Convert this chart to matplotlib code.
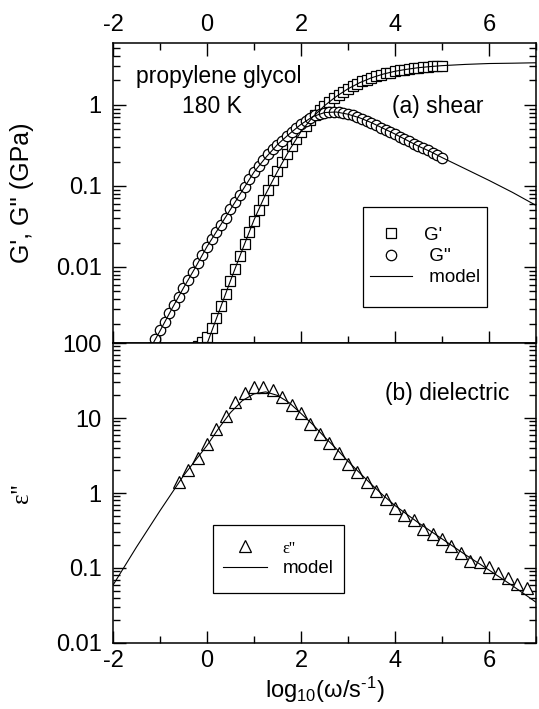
import numpy as np
import matplotlib.pyplot as plt
from matplotlib.patches import Rectangle
from matplotlib.ticker import LogLocator, MultipleLocator, FuncFormatter, NullFormatter

plt.rcParams['font.family'] = ['Liberation Sans', 'DejaVu Sans']
plt.rcParams['mathtext.fontset'] = 'custom'
plt.rcParams['mathtext.rm'] = 'Liberation Sans'
plt.rcParams['mathtext.it'] = 'Liberation Sans:italic'
plt.rcParams['axes.unicode_minus'] = False

# (a) shear: log10(omega) and moduli in GPa
x_g2 = [-1.2, -1.1, -1.0, -0.9, -0.8, -0.7, -0.6, -0.5, -0.4, -0.3, -0.2, -0.1,
        0.0, 0.1, 0.2, 0.3, 0.4, 0.5, 0.6, 0.7, 0.8, 0.9, 1.0, 1.1, 1.2, 1.3, 1.4,
        1.5, 1.6, 1.7, 1.8, 1.9, 2.0, 2.1, 2.2, 2.3, 2.4, 2.5, 2.6, 2.7, 2.8, 2.9,
        3.0, 3.1, 3.2, 3.3, 3.4, 3.5, 3.6, 3.7, 3.8, 3.9, 4.0, 4.1, 4.2, 4.3, 4.4,
        4.5, 4.6, 4.7, 4.8, 4.9, 5.0]
g2 = [0.00102, 0.00129, 0.00166, 0.00209, 0.00269, 0.00339, 0.00427, 0.00550,
      0.00692, 0.00871, 0.0112, 0.0141, 0.0178, 0.0219, 0.0269, 0.0331, 0.0407,
      0.0513, 0.0631, 0.0776, 0.0977, 0.120, 0.148, 0.178, 0.209, 0.245, 0.282,
      0.324, 0.363, 0.417, 0.468, 0.525, 0.575, 0.631, 0.692, 0.741, 0.776, 0.804,
      0.817, 0.820, 0.813, 0.794, 0.767, 0.741, 0.708, 0.676, 0.638, 0.603, 0.562,
      0.525, 0.495, 0.462, 0.437, 0.407, 0.380, 0.355, 0.331, 0.309, 0.292, 0.275,
      0.257, 0.240, 0.224]

x_g1 = [-0.3, -0.2, -0.1, 0.0, 0.1, 0.2, 0.3, 0.4, 0.5, 0.6, 0.7, 0.8, 0.9, 1.0,
        1.1, 1.2, 1.3, 1.4, 1.5, 1.6, 1.7, 1.8, 1.9, 2.0, 2.1, 2.2, 2.3, 2.4, 2.5,
        2.6, 2.7, 2.8, 2.9, 3.0, 3.1, 3.2, 3.3, 3.4, 3.5, 3.6, 3.7, 3.8, 3.9, 4.0,
        4.1, 4.2, 4.3, 4.4, 4.5, 4.6, 4.7, 4.8, 4.9, 5.0]
g1 = [0.000955, 0.00107, 0.00120, 0.00138, 0.00174, 0.00234, 0.00331, 0.00468,
      0.00676, 0.00955, 0.0135, 0.0191, 0.0269, 0.0372, 0.0501, 0.0676, 0.0891,
      0.117, 0.151, 0.195, 0.245, 0.309, 0.380, 0.468, 0.556, 0.653, 0.759, 0.871,
      0.977, 1.10, 1.22, 1.33, 1.46, 1.58, 1.70, 1.82, 1.95, 2.04, 2.16, 2.26,
      2.34, 2.45, 2.51, 2.60, 2.66, 2.72, 2.79, 2.85, 2.88, 2.92, 2.95, 2.99,
      3.02, 3.05]

# model curves
xm_g1 = [-0.5, -0.25, 0.0, 0.25, 0.5, 0.75, 1.0, 1.25, 1.5, 1.75, 2.0, 2.25, 2.5,
         2.75, 3.0, 3.25, 3.5, 3.75, 4.0, 4.25, 4.5, 4.75, 5.0, 5.5, 6.0, 6.5, 7.0]
m_g1 = [0.000200, 0.000479, 0.00112, 0.00275, 0.00676, 0.0162, 0.0380, 0.0794,
        0.151, 0.275, 0.468, 0.708, 0.977, 1.27, 1.58, 1.88, 2.16, 2.40, 2.60,
        2.75, 2.88, 2.97, 3.05, 3.16, 3.24, 3.27, 3.31]
xm_g2 = [-2.0, -1.5, -1.25, -1.0, -0.75, -0.5, -0.25, 0.0, 0.25, 0.5, 0.75, 1.0,
         1.25, 1.5, 1.75, 2.0, 2.25, 2.5, 2.75, 3.0, 3.25, 3.5, 3.75, 4.0, 4.25,
         4.5, 4.75, 5.0, 5.5, 6.0, 6.5, 7.0]
m_g2 = [0.000158, 0.000490, 0.000891, 0.00162, 0.00302, 0.00550, 0.00977, 0.0178,
        0.0302, 0.0513, 0.0871, 0.148, 0.224, 0.324, 0.437, 0.575, 0.716, 0.804,
        0.817, 0.767, 0.692, 0.603, 0.513, 0.437, 0.367, 0.309, 0.266, 0.224,
        0.162, 0.117, 0.0832, 0.0575]

# (b) dielectric loss
x_eps = [-0.6, -0.4, -0.2, 0.0, 0.2, 0.4, 0.6, 0.8, 1.0, 1.2, 1.4, 1.6, 1.8, 2.0,
         2.2, 2.4, 2.6, 2.8, 3.0, 3.2, 3.4, 3.6, 3.8, 4.0, 4.2, 4.4, 4.6, 4.8, 5.0,
         5.2, 5.4, 5.6, 5.8, 6.0, 6.2, 6.4, 6.6, 6.8]
eps = [1.41, 2.0, 2.9, 4.5, 7.1, 10.6, 16.5, 21.8, 26, 26, 23.7, 19.2, 14.9, 11.5,
       8.4, 6.2, 4.7, 3.45, 2.43, 1.92, 1.41, 1.07, 0.82, 0.64, 0.51, 0.43, 0.33,
       0.28, 0.24, 0.196, 0.157, 0.125, 0.119, 0.104, 0.087, 0.073, 0.062, 0.054]
xm_eps = [-2.0, -1.5, -1.0, -0.5, 0.0, 0.25, 0.5, 0.75, 1.0, 1.25, 1.5, 1.75, 2.0,
          2.25, 2.5, 2.75, 3.0, 3.25, 3.5, 3.75, 4.0, 4.5, 5.0, 5.5, 6.0, 6.5, 7.0]
m_eps = [0.059, 0.19, 0.58, 1.7, 4.3, 7.3, 11.8, 17, 21, 22.3, 20, 16, 11.5, 8.2,
         5.6, 3.9, 2.65, 1.85, 1.3, 0.93, 0.68, 0.40, 0.245, 0.15, 0.094, 0.058,
         0.035]

fig = plt.figure(figsize=(5.39, 7.09), dpi=100)
ax1 = fig.add_axes([0.2096, 0.5162, 0.7848, 0.4231])
ax2 = fig.add_axes([0.2096, 0.0931, 0.7848, 0.4231])

mk = dict(linestyle='none', mfc='white', mec='black', mew=0.9)
h1, = ax1.plot(x_g1, g1, marker='s', ms=7, zorder=2, **mk)
h2, = ax1.plot(x_g2, g2, marker='o', ms=7.5, zorder=2, **mk)
hm, = ax1.plot(xm_g1, m_g1, color='black', lw=0.8, zorder=3)
ax1.plot(xm_g2, m_g2, color='black', lw=0.8, zorder=3)

h3, = ax2.plot(x_eps, eps, marker='^', ms=9, zorder=2, **mk)
hm2, = ax2.plot(xm_eps, m_eps, color='black', lw=0.8, zorder=3)

fmt = FuncFormatter(lambda v, p: '%g' % v)
for ax in (ax1, ax2):
    ax.set_yscale('log')
    ax.set_xlim(-2, 7)
    ax.xaxis.set_major_locator(MultipleLocator(2))
    ax.xaxis.set_minor_locator(MultipleLocator(1))
    ax.yaxis.set_major_locator(LogLocator(base=10, numticks=12))
    ax.yaxis.set_minor_locator(LogLocator(base=10, subs=np.arange(2, 10), numticks=40))
    ax.yaxis.set_major_formatter(fmt)
    ax.yaxis.set_minor_formatter(NullFormatter())
    ax.tick_params(which='major', direction='in', length=9, width=1, labelsize=17)
    ax.tick_params(which='minor', direction='in', length=5, width=1)
    ax.tick_params(axis='y', which='both', right=True, pad=8)
    ax.tick_params(axis='x', pad=5)
    for s in ax.spines.values():
        s.set_linewidth(1.1)

ax1.set_ylim(1.15e-3, 5.8)
ax2.set_ylim(0.01, 100)
ax1.tick_params(axis='x', which='both', top=True, bottom=True,
                labeltop=True, labelbottom=False)
ax2.tick_params(axis='x', which='both', top=False, bottom=True)

ax1.set_ylabel("G', G'' (GPa)", fontsize=18)
ax1.yaxis.set_label_coords(-0.215, 0.5)
ax1.yaxis.label.set_va('center')
ax2.set_ylabel("ε''", fontsize=18, family=['Liberation Serif', 'DejaVu Serif'])
ax2.yaxis.set_label_coords(-0.215, 0.5)
ax2.yaxis.label.set_va('center')
ax2.set_xlabel(r'log$_{\mathrm{10}}$(ω/s$^{\text{-1}}$)', fontsize=17)
ax2.xaxis.set_label_coords(0.5, -0.157)
ax2.xaxis.label.set_va('center')

ax1.text(0.25, 0.89, 'propylene glycol', transform=ax1.transAxes,
         ha='center', va='center', fontsize=16.5)
ax1.text(0.235, 0.79, '180 K', transform=ax1.transAxes,
         ha='center', va='center', fontsize=16.5)
ax1.text(0.768, 0.79, '(a) shear', transform=ax1.transAxes,
         ha='center', va='center', fontsize=16.5)
ax2.text(0.789, 0.833, '(b) dielectric', transform=ax2.transAxes,
         ha='center', va='center', fontsize=16.5)

# legends: frameless entries inside a plain box
ax1.add_patch(Rectangle((0.591, 0.12), 0.293, 0.333, transform=ax1.transAxes,
                        fill=True, fc='white', ec='black', lw=0.9, zorder=4))
leg1 = ax1.legend([h1, h2, hm], ["G'", " G''", " model"], loc='center',
                  bbox_to_anchor=(0.7376, 0.288), frameon=False,
                  handlelength=2.25, handletextpad=0.65, labelspacing=0.22,
                  borderpad=0, borderaxespad=0, fontsize=13.5)
leg1.set_zorder(5)

ax2.add_patch(Rectangle((0.236, 0.167), 0.310, 0.226, transform=ax2.transAxes,
                        fill=True, fc='white', ec='black', lw=0.9, zorder=4))
leg2 = ax2.legend([h3, hm2], ["ε''", "model"], loc='center',
                  bbox_to_anchor=(0.39, 0.282), frameon=False,
                  handlelength=2.35, handletextpad=0.85, labelspacing=0.2,
                  borderpad=0, borderaxespad=0, fontsize=13.5)
leg2.set_zorder(5)
leg2.get_texts()[0].set_family(['Liberation Serif', 'DejaVu Serif'])
leg2.get_texts()[0].set_fontsize(12)

fig.savefig('out.png', dpi=100)
